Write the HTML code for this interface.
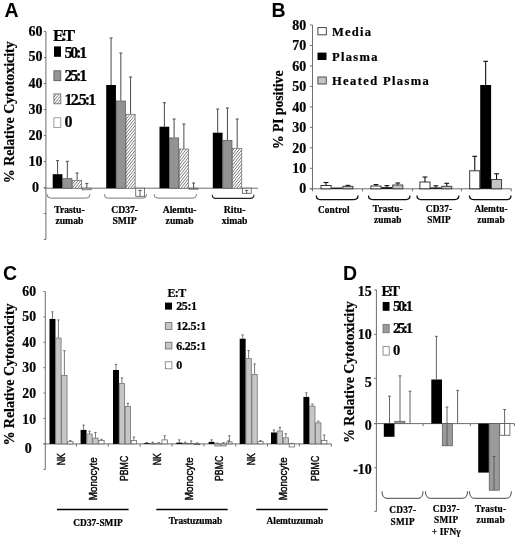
<!DOCTYPE html>
<html>
<head>
<meta charset="utf-8">
<title>Figure</title>
<style>
html,body{margin:0;padding:0;background:#fff;}
body{width:520px;height:539px;overflow:hidden;font-family:"Liberation Serif",serif;}
svg{display:block;}
</style>
</head>
<body>
<svg width="520" height="539" viewBox="0 0 520 539">
<defs>
<pattern id="hatch" width="2.2" height="2.2" patternUnits="userSpaceOnUse" patternTransform="rotate(-52)">
<rect x="0" y="0" width="2.2" height="2.2" fill="#fff"/>
<line x1="0" y1="1.1" x2="2.2" y2="1.1" stroke="#606060" stroke-width="0.65"/>
</pattern>
<filter id="soft" x="0" y="0" width="520" height="539" filterUnits="userSpaceOnUse"><feGaussianBlur stdDeviation="0.45"/></filter>
</defs>
<rect x="0" y="0" width="520" height="539" fill="#fff"/>
<g filter="url(#soft)">
<text x="4.40" y="16.80" font-family="Liberation Sans, sans-serif" font-size="19.5" font-weight="bold" text-anchor="start" fill="#000">A</text>
<line x1="45.90" y1="31.50" x2="45.90" y2="239.50" stroke="#6e6e6e" stroke-width="1"/>
<line x1="43.90" y1="31.50" x2="45.90" y2="31.50" stroke="#6e6e6e" stroke-width="1"/>
<line x1="43.90" y1="57.50" x2="45.90" y2="57.50" stroke="#6e6e6e" stroke-width="1"/>
<line x1="43.90" y1="83.50" x2="45.90" y2="83.50" stroke="#6e6e6e" stroke-width="1"/>
<line x1="43.90" y1="109.50" x2="45.90" y2="109.50" stroke="#6e6e6e" stroke-width="1"/>
<line x1="43.90" y1="135.50" x2="45.90" y2="135.50" stroke="#6e6e6e" stroke-width="1"/>
<line x1="43.90" y1="161.50" x2="45.90" y2="161.50" stroke="#6e6e6e" stroke-width="1"/>
<line x1="43.90" y1="187.50" x2="45.90" y2="187.50" stroke="#6e6e6e" stroke-width="1"/>
<line x1="43.90" y1="213.50" x2="45.90" y2="213.50" stroke="#6e6e6e" stroke-width="1"/>
<line x1="43.90" y1="239.50" x2="45.90" y2="239.50" stroke="#6e6e6e" stroke-width="1"/>
<line x1="43.90" y1="188.20" x2="258.00" y2="188.20" stroke="#6e6e6e" stroke-width="1"/>
<text x="42.40" y="35.50" font-family="Liberation Serif, serif" font-size="14" font-weight="bold" text-anchor="end" fill="#000" stroke="#000" stroke-width="0.22">60</text>
<text x="42.40" y="60.70" font-family="Liberation Serif, serif" font-size="14" font-weight="bold" text-anchor="end" fill="#000" stroke="#000" stroke-width="0.22">50</text>
<text x="42.40" y="87.50" font-family="Liberation Serif, serif" font-size="14" font-weight="bold" text-anchor="end" fill="#000" stroke="#000" stroke-width="0.22">40</text>
<text x="42.40" y="113.50" font-family="Liberation Serif, serif" font-size="14" font-weight="bold" text-anchor="end" fill="#000" stroke="#000" stroke-width="0.22">30</text>
<text x="42.40" y="139.50" font-family="Liberation Serif, serif" font-size="14" font-weight="bold" text-anchor="end" fill="#000" stroke="#000" stroke-width="0.22">20</text>
<text x="42.40" y="165.50" font-family="Liberation Serif, serif" font-size="14" font-weight="bold" text-anchor="end" fill="#000" stroke="#000" stroke-width="0.22">10</text>
<text x="35.50" y="191.50" font-family="Liberation Serif, serif" font-size="14" font-weight="bold" text-anchor="middle" fill="#000" stroke="#000" stroke-width="0.22">0</text>
<text x="14.00" y="112.30" font-family="Liberation Serif, serif" font-size="13.9" font-weight="bold" text-anchor="middle" fill="#000" textLength="141.80" lengthAdjust="spacing" stroke="#000" stroke-width="0.22" transform="rotate(-90 14.00 112.30)">% Relative Cytotoxicity</text>
<line x1="57.58" y1="160.60" x2="57.58" y2="174.20" stroke="#4a4a4a" stroke-width="1"/>
<line x1="56.08" y1="160.60" x2="59.08" y2="160.60" stroke="#4a4a4a" stroke-width="1"/>
<rect x="52.70" y="174.20" width="9.75" height="14.00" fill="#000"/>
<line x1="67.33" y1="161.30" x2="67.33" y2="178.30" stroke="#4a4a4a" stroke-width="1"/>
<line x1="65.83" y1="161.30" x2="68.83" y2="161.30" stroke="#4a4a4a" stroke-width="1"/>
<rect x="62.75" y="178.60" width="9.15" height="9.60" fill="#939393" stroke="#555" stroke-width="0.7"/>
<line x1="77.08" y1="173.00" x2="77.08" y2="180.20" stroke="#4a4a4a" stroke-width="1"/>
<line x1="75.58" y1="173.00" x2="78.58" y2="173.00" stroke="#4a4a4a" stroke-width="1"/>
<rect x="72.50" y="180.50" width="9.15" height="7.70" fill="#fff"/>
<rect x="72.50" y="180.50" width="9.15" height="7.70" fill="url(#hatch)" stroke="#666" stroke-width="0.7"/>
<line x1="86.83" y1="183.40" x2="86.83" y2="188.20" stroke="#4a4a4a" stroke-width="1"/>
<line x1="85.33" y1="183.40" x2="88.33" y2="183.40" stroke="#4a4a4a" stroke-width="1"/>
<rect x="82.25" y="188.20" width="8.85" height="1.60" fill="#fff" stroke="#555" stroke-width="0.8"/>
<line x1="111.08" y1="38.00" x2="111.08" y2="85.00" stroke="#4a4a4a" stroke-width="1"/>
<line x1="109.58" y1="38.00" x2="112.58" y2="38.00" stroke="#4a4a4a" stroke-width="1"/>
<rect x="106.20" y="85.00" width="9.75" height="103.20" fill="#000"/>
<line x1="120.83" y1="53.00" x2="120.83" y2="100.70" stroke="#4a4a4a" stroke-width="1"/>
<line x1="119.33" y1="53.00" x2="122.33" y2="53.00" stroke="#4a4a4a" stroke-width="1"/>
<rect x="116.25" y="101.00" width="9.15" height="87.20" fill="#939393" stroke="#555" stroke-width="0.7"/>
<line x1="130.57" y1="77.00" x2="130.57" y2="114.00" stroke="#4a4a4a" stroke-width="1"/>
<line x1="129.07" y1="77.00" x2="132.07" y2="77.00" stroke="#4a4a4a" stroke-width="1"/>
<rect x="126.00" y="114.30" width="9.15" height="73.90" fill="#fff"/>
<rect x="126.00" y="114.30" width="9.15" height="73.90" fill="url(#hatch)" stroke="#666" stroke-width="0.7"/>
<rect x="135.75" y="188.20" width="8.85" height="8.10" fill="#fff" stroke="#555" stroke-width="0.8"/>
<line x1="140.02" y1="190.40" x2="140.02" y2="196.30" stroke="#4a4a4a" stroke-width="0.9"/>
<line x1="138.32" y1="190.40" x2="141.72" y2="190.40" stroke="#4a4a4a" stroke-width="0.9"/>
<line x1="164.38" y1="102.70" x2="164.38" y2="126.70" stroke="#4a4a4a" stroke-width="1"/>
<line x1="162.88" y1="102.70" x2="165.88" y2="102.70" stroke="#4a4a4a" stroke-width="1"/>
<rect x="159.50" y="126.70" width="9.75" height="61.50" fill="#000"/>
<line x1="174.12" y1="119.00" x2="174.12" y2="137.60" stroke="#4a4a4a" stroke-width="1"/>
<line x1="172.62" y1="119.00" x2="175.62" y2="119.00" stroke="#4a4a4a" stroke-width="1"/>
<rect x="169.55" y="137.90" width="9.15" height="50.30" fill="#939393" stroke="#555" stroke-width="0.7"/>
<line x1="183.88" y1="124.00" x2="183.88" y2="148.70" stroke="#4a4a4a" stroke-width="1"/>
<line x1="182.38" y1="124.00" x2="185.38" y2="124.00" stroke="#4a4a4a" stroke-width="1"/>
<rect x="179.30" y="149.00" width="9.15" height="39.20" fill="#fff"/>
<rect x="179.30" y="149.00" width="9.15" height="39.20" fill="url(#hatch)" stroke="#666" stroke-width="0.7"/>
<line x1="193.62" y1="183.00" x2="193.62" y2="188.20" stroke="#4a4a4a" stroke-width="1"/>
<line x1="192.12" y1="183.00" x2="195.12" y2="183.00" stroke="#4a4a4a" stroke-width="1"/>
<rect x="189.05" y="188.20" width="8.85" height="1.00" fill="#fff" stroke="#555" stroke-width="0.8"/>
<line x1="217.68" y1="109.00" x2="217.68" y2="132.70" stroke="#4a4a4a" stroke-width="1"/>
<line x1="216.18" y1="109.00" x2="219.18" y2="109.00" stroke="#4a4a4a" stroke-width="1"/>
<rect x="212.80" y="132.70" width="9.75" height="55.50" fill="#000"/>
<line x1="227.43" y1="108.00" x2="227.43" y2="140.00" stroke="#4a4a4a" stroke-width="1"/>
<line x1="225.93" y1="108.00" x2="228.93" y2="108.00" stroke="#4a4a4a" stroke-width="1"/>
<rect x="222.85" y="140.30" width="9.15" height="47.90" fill="#939393" stroke="#555" stroke-width="0.7"/>
<line x1="237.18" y1="119.00" x2="237.18" y2="148.00" stroke="#4a4a4a" stroke-width="1"/>
<line x1="235.68" y1="119.00" x2="238.68" y2="119.00" stroke="#4a4a4a" stroke-width="1"/>
<rect x="232.60" y="148.30" width="9.15" height="39.90" fill="#fff"/>
<rect x="232.60" y="148.30" width="9.15" height="39.90" fill="url(#hatch)" stroke="#666" stroke-width="0.7"/>
<rect x="242.35" y="188.20" width="8.85" height="5.10" fill="#fff" stroke="#555" stroke-width="0.8"/>
<line x1="246.62" y1="190.40" x2="246.62" y2="193.30" stroke="#4a4a4a" stroke-width="0.9"/>
<line x1="244.93" y1="190.40" x2="248.33" y2="190.40" stroke="#4a4a4a" stroke-width="0.9"/>
<path d="M47.00,194.20 Q47.00,198.10 50.50,198.10 L86.50,198.10 Q90.00,198.10 90.00,194.20" fill="none" stroke="#6a6a6a" stroke-width="0.9"/>
<path d="M104.30,194.20 Q104.30,198.10 107.80,198.10 L143.10,198.10 Q146.60,198.10 146.60,194.20" fill="none" stroke="#6a6a6a" stroke-width="0.9"/>
<path d="M154.00,194.20 Q154.00,198.10 157.50,198.10 L193.10,198.10 Q196.60,198.10 196.60,194.20" fill="none" stroke="#6a6a6a" stroke-width="0.9"/>
<path d="M212.20,194.80 Q212.20,198.40 215.70,198.40 L250.50,198.40 Q254.00,198.40 254.00,194.80" fill="none" stroke="#222" stroke-width="1.1"/>
<text x="69.40" y="213.00" font-family="Liberation Serif, serif" font-size="9.7" font-weight="bold" text-anchor="middle" fill="#000" stroke="#000" stroke-width="0.22">Trastu-</text>
<text x="69.40" y="224.20" font-family="Liberation Serif, serif" font-size="9.7" font-weight="bold" text-anchor="middle" fill="#000" stroke="#000" stroke-width="0.22">zumab</text>
<text x="124.60" y="213.00" font-family="Liberation Serif, serif" font-size="9.7" font-weight="bold" text-anchor="middle" fill="#000" stroke="#000" stroke-width="0.22">CD37-</text>
<text x="124.60" y="224.20" font-family="Liberation Serif, serif" font-size="9.7" font-weight="bold" text-anchor="middle" fill="#000" stroke="#000" stroke-width="0.22">SMIP</text>
<text x="179.60" y="213.00" font-family="Liberation Serif, serif" font-size="9.7" font-weight="bold" text-anchor="middle" fill="#000" stroke="#000" stroke-width="0.22">Alemtu-</text>
<text x="179.60" y="224.20" font-family="Liberation Serif, serif" font-size="9.7" font-weight="bold" text-anchor="middle" fill="#000" stroke="#000" stroke-width="0.22">zumab</text>
<text x="234.60" y="213.00" font-family="Liberation Serif, serif" font-size="9.7" font-weight="bold" text-anchor="middle" fill="#000" stroke="#000" stroke-width="0.22">Ritu-</text>
<text x="234.60" y="224.20" font-family="Liberation Serif, serif" font-size="9.7" font-weight="bold" text-anchor="middle" fill="#000" stroke="#000" stroke-width="0.22">ximab</text>
<text x="53.00" y="40.60" font-family="Liberation Serif, serif" font-size="17" font-weight="bold" text-anchor="start" fill="#000" textLength="22.00" lengthAdjust="spacing" stroke="#000" stroke-width="0.22">E:T</text>
<rect x="54.00" y="46.40" width="7.00" height="10.40" fill="#000"/>
<text x="64.60" y="57.70" font-family="Liberation Serif, serif" font-size="16" font-weight="bold" text-anchor="start" fill="#000" textLength="22.60" lengthAdjust="spacing" stroke="#000" stroke-width="0.22">50:1</text>
<rect x="53.90" y="70.80" width="6.90" height="9.90" fill="#939393" stroke="#555" stroke-width="0.8"/>
<text x="64.60" y="81.00" font-family="Liberation Serif, serif" font-size="16" font-weight="bold" text-anchor="start" fill="#000" textLength="22.60" lengthAdjust="spacing" stroke="#000" stroke-width="0.22">25:1</text>
<rect x="53.90" y="93.90" width="6.90" height="9.90" fill="#fff"/>
<rect x="53.90" y="93.90" width="6.90" height="9.90" fill="url(#hatch)" stroke="#666" stroke-width="0.8"/>
<text x="64.60" y="104.60" font-family="Liberation Serif, serif" font-size="16" font-weight="bold" text-anchor="start" fill="#000" textLength="31.60" lengthAdjust="spacing" stroke="#000" stroke-width="0.22">12.5:1</text>
<rect x="53.90" y="117.80" width="6.90" height="9.60" fill="#fff" stroke="#888" stroke-width="0.8"/>
<text x="64.60" y="127.20" font-family="Liberation Serif, serif" font-size="16" font-weight="bold" text-anchor="start" fill="#000" textLength="6.80" lengthAdjust="spacing" stroke="#000" stroke-width="0.22">0</text>
<text x="271.40" y="17.20" font-family="Liberation Sans, sans-serif" font-size="19.5" font-weight="bold" text-anchor="start" fill="#000">B</text>
<line x1="312.50" y1="25.00" x2="312.50" y2="191.30" stroke="#6e6e6e" stroke-width="1"/>
<line x1="309.90" y1="25.00" x2="312.50" y2="25.00" stroke="#6e6e6e" stroke-width="1"/>
<line x1="309.90" y1="45.47" x2="312.50" y2="45.47" stroke="#6e6e6e" stroke-width="1"/>
<line x1="309.90" y1="65.94" x2="312.50" y2="65.94" stroke="#6e6e6e" stroke-width="1"/>
<line x1="309.90" y1="86.41" x2="312.50" y2="86.41" stroke="#6e6e6e" stroke-width="1"/>
<line x1="309.90" y1="106.88" x2="312.50" y2="106.88" stroke="#6e6e6e" stroke-width="1"/>
<line x1="309.90" y1="127.35" x2="312.50" y2="127.35" stroke="#6e6e6e" stroke-width="1"/>
<line x1="309.90" y1="147.82" x2="312.50" y2="147.82" stroke="#6e6e6e" stroke-width="1"/>
<line x1="309.90" y1="168.29" x2="312.50" y2="168.29" stroke="#6e6e6e" stroke-width="1"/>
<line x1="309.90" y1="188.76" x2="312.50" y2="188.76" stroke="#6e6e6e" stroke-width="1"/>
<line x1="309.90" y1="188.80" x2="511.50" y2="188.80" stroke="#6e6e6e" stroke-width="1"/>
<line x1="362.50" y1="188.80" x2="362.50" y2="191.40" stroke="#6e6e6e" stroke-width="1"/>
<line x1="412.50" y1="188.80" x2="412.50" y2="191.40" stroke="#6e6e6e" stroke-width="1"/>
<line x1="461.40" y1="188.80" x2="461.40" y2="191.40" stroke="#6e6e6e" stroke-width="1"/>
<line x1="511.20" y1="188.80" x2="511.20" y2="191.40" stroke="#6e6e6e" stroke-width="1"/>
<text x="306.20" y="29.70" font-family="Liberation Serif, serif" font-size="14" font-weight="bold" text-anchor="end" fill="#000" stroke="#000" stroke-width="0.22">80</text>
<text x="306.20" y="50.17" font-family="Liberation Serif, serif" font-size="14" font-weight="bold" text-anchor="end" fill="#000" stroke="#000" stroke-width="0.22">70</text>
<text x="306.20" y="70.64" font-family="Liberation Serif, serif" font-size="14" font-weight="bold" text-anchor="end" fill="#000" stroke="#000" stroke-width="0.22">60</text>
<text x="306.20" y="91.11" font-family="Liberation Serif, serif" font-size="14" font-weight="bold" text-anchor="end" fill="#000" stroke="#000" stroke-width="0.22">50</text>
<text x="306.20" y="111.58" font-family="Liberation Serif, serif" font-size="14" font-weight="bold" text-anchor="end" fill="#000" stroke="#000" stroke-width="0.22">40</text>
<text x="306.20" y="132.05" font-family="Liberation Serif, serif" font-size="14" font-weight="bold" text-anchor="end" fill="#000" stroke="#000" stroke-width="0.22">30</text>
<text x="306.20" y="152.52" font-family="Liberation Serif, serif" font-size="14" font-weight="bold" text-anchor="end" fill="#000" stroke="#000" stroke-width="0.22">20</text>
<text x="306.20" y="172.99" font-family="Liberation Serif, serif" font-size="14" font-weight="bold" text-anchor="end" fill="#000" stroke="#000" stroke-width="0.22">10</text>
<text x="306.20" y="193.46" font-family="Liberation Serif, serif" font-size="14" font-weight="bold" text-anchor="end" fill="#000" stroke="#000" stroke-width="0.22">0</text>
<text x="283.00" y="109.80" font-family="Liberation Serif, serif" font-size="13.7" font-weight="bold" text-anchor="middle" fill="#000" textLength="78.60" lengthAdjust="spacing" stroke="#000" stroke-width="0.22" transform="rotate(-90 283.00 109.80)">% PI positive</text>
<line x1="326.05" y1="182.50" x2="326.05" y2="185.50" stroke="#111" stroke-width="1.1"/>
<line x1="323.65" y1="182.50" x2="328.45" y2="182.50" stroke="#111" stroke-width="1.1"/>
<rect x="321.00" y="185.50" width="10.10" height="3.30" fill="#fff" stroke="#222" stroke-width="0.9"/>
<rect x="331.50" y="187.60" width="10.90" height="1.20" fill="#000"/>
<line x1="347.85" y1="185.40" x2="347.85" y2="186.30" stroke="#111" stroke-width="1.1"/>
<line x1="345.45" y1="185.40" x2="350.25" y2="185.40" stroke="#111" stroke-width="1.1"/>
<rect x="342.80" y="186.30" width="10.10" height="2.50" fill="#c4c4c4" stroke="#333" stroke-width="0.9"/>
<line x1="375.95" y1="184.60" x2="375.95" y2="186.00" stroke="#111" stroke-width="1.1"/>
<line x1="373.55" y1="184.60" x2="378.35" y2="184.60" stroke="#111" stroke-width="1.1"/>
<rect x="370.90" y="186.00" width="10.10" height="2.80" fill="#fff" stroke="#222" stroke-width="0.9"/>
<line x1="386.85" y1="185.60" x2="386.85" y2="187.20" stroke="#111" stroke-width="1.1"/>
<line x1="384.45" y1="185.60" x2="389.25" y2="185.60" stroke="#111" stroke-width="1.1"/>
<rect x="381.40" y="187.20" width="10.90" height="1.60" fill="#000"/>
<line x1="397.75" y1="183.00" x2="397.75" y2="185.00" stroke="#111" stroke-width="1.1"/>
<line x1="395.35" y1="183.00" x2="400.15" y2="183.00" stroke="#111" stroke-width="1.1"/>
<rect x="392.70" y="185.00" width="10.10" height="3.80" fill="#c4c4c4" stroke="#333" stroke-width="0.9"/>
<line x1="424.95" y1="177.00" x2="424.95" y2="182.00" stroke="#111" stroke-width="1.1"/>
<line x1="422.55" y1="177.00" x2="427.35" y2="177.00" stroke="#111" stroke-width="1.1"/>
<rect x="419.90" y="182.00" width="10.10" height="6.80" fill="#fff" stroke="#222" stroke-width="0.9"/>
<line x1="435.85" y1="185.80" x2="435.85" y2="187.50" stroke="#111" stroke-width="1.1"/>
<line x1="433.45" y1="185.80" x2="438.25" y2="185.80" stroke="#111" stroke-width="1.1"/>
<rect x="430.40" y="187.50" width="10.90" height="1.30" fill="#000"/>
<line x1="446.75" y1="183.30" x2="446.75" y2="186.30" stroke="#111" stroke-width="1.1"/>
<line x1="444.35" y1="183.30" x2="449.15" y2="183.30" stroke="#111" stroke-width="1.1"/>
<rect x="441.70" y="186.30" width="10.10" height="2.50" fill="#c4c4c4" stroke="#333" stroke-width="0.9"/>
<line x1="474.75" y1="156.30" x2="474.75" y2="170.80" stroke="#111" stroke-width="1.1"/>
<line x1="472.35" y1="156.30" x2="477.15" y2="156.30" stroke="#111" stroke-width="1.1"/>
<rect x="469.70" y="170.80" width="10.10" height="18.00" fill="#fff" stroke="#222" stroke-width="0.9"/>
<line x1="485.65" y1="61.30" x2="485.65" y2="85.00" stroke="#111" stroke-width="1.1"/>
<line x1="483.25" y1="61.30" x2="488.05" y2="61.30" stroke="#111" stroke-width="1.1"/>
<rect x="480.20" y="85.00" width="10.90" height="103.80" fill="#000"/>
<line x1="496.55" y1="173.80" x2="496.55" y2="179.50" stroke="#111" stroke-width="1.1"/>
<line x1="494.15" y1="173.80" x2="498.95" y2="173.80" stroke="#111" stroke-width="1.1"/>
<rect x="491.50" y="179.50" width="10.10" height="9.30" fill="#c4c4c4" stroke="#333" stroke-width="0.9"/>
<path d="M316.30,195.60 Q316.30,199.60 320.30,199.60 L354.00,199.60 Q358.00,199.60 358.00,195.60" fill="none" stroke="#111" stroke-width="1.3"/>
<path d="M368.50,195.60 Q368.50,199.60 372.50,199.60 L406.00,199.60 Q410.00,199.60 410.00,195.60" fill="none" stroke="#111" stroke-width="1.3"/>
<path d="M417.00,195.60 Q417.00,199.60 421.00,199.60 L454.80,199.60 Q458.80,199.60 458.80,195.60" fill="none" stroke="#111" stroke-width="1.3"/>
<path d="M469.50,195.60 Q469.50,199.60 473.50,199.60 L507.00,199.60 Q511.00,199.60 511.00,195.60" fill="none" stroke="#111" stroke-width="1.3"/>
<text x="333.90" y="212.60" font-family="Liberation Serif, serif" font-size="9.3" font-weight="bold" text-anchor="middle" fill="#000" letter-spacing="0.15" stroke="#000" stroke-width="0.22">Control</text>
<text x="387.80" y="212.00" font-family="Liberation Serif, serif" font-size="9.3" font-weight="bold" text-anchor="middle" fill="#000" letter-spacing="0.1" stroke="#000" stroke-width="0.22">Trastu-</text>
<text x="387.80" y="222.60" font-family="Liberation Serif, serif" font-size="9.3" font-weight="bold" text-anchor="middle" fill="#000" letter-spacing="0.1" stroke="#000" stroke-width="0.22">zumab</text>
<text x="439.00" y="212.00" font-family="Liberation Serif, serif" font-size="9.3" font-weight="bold" text-anchor="middle" fill="#000" letter-spacing="0.1" stroke="#000" stroke-width="0.22">CD37-</text>
<text x="439.00" y="222.60" font-family="Liberation Serif, serif" font-size="9.3" font-weight="bold" text-anchor="middle" fill="#000" letter-spacing="0.1" stroke="#000" stroke-width="0.22">SMIP</text>
<text x="491.00" y="212.00" font-family="Liberation Serif, serif" font-size="9.3" font-weight="bold" text-anchor="middle" fill="#000" letter-spacing="0.1" stroke="#000" stroke-width="0.22">Alemtu-</text>
<text x="491.00" y="222.60" font-family="Liberation Serif, serif" font-size="9.3" font-weight="bold" text-anchor="middle" fill="#000" letter-spacing="0.1" stroke="#000" stroke-width="0.22">zumab</text>
<rect x="317.90" y="27.60" width="8.40" height="7.20" fill="#fff" stroke="#333" stroke-width="0.9"/>
<text x="332.00" y="35.60" font-family="Liberation Serif, serif" font-size="12.5" font-weight="bold" text-anchor="start" fill="#000" textLength="39.00" lengthAdjust="spacing" stroke="#000" stroke-width="0.22">Media</text>
<rect x="317.50" y="52.60" width="9.00" height="7.40" fill="#000"/>
<text x="332.00" y="60.60" font-family="Liberation Serif, serif" font-size="12.5" font-weight="bold" text-anchor="start" fill="#000" textLength="45.50" lengthAdjust="spacing" stroke="#000" stroke-width="0.22">Plasma</text>
<rect x="317.90" y="77.00" width="8.40" height="7.00" fill="#c4c4c4" stroke="#444" stroke-width="0.9"/>
<text x="332.00" y="84.60" font-family="Liberation Serif, serif" font-size="12.5" font-weight="bold" text-anchor="start" fill="#000" textLength="96.80" lengthAdjust="spacing" stroke="#000" stroke-width="0.22">Heated Plasma</text>
<text x="3.00" y="279.80" font-family="Liberation Sans, sans-serif" font-size="19.5" font-weight="bold" text-anchor="start" fill="#000">C</text>
<line x1="45.30" y1="291.50" x2="45.30" y2="469.50" stroke="#6e6e6e" stroke-width="1"/>
<line x1="43.50" y1="291.50" x2="45.30" y2="291.50" stroke="#6e6e6e" stroke-width="1"/>
<line x1="43.50" y1="316.90" x2="45.30" y2="316.90" stroke="#6e6e6e" stroke-width="1"/>
<line x1="43.50" y1="342.30" x2="45.30" y2="342.30" stroke="#6e6e6e" stroke-width="1"/>
<line x1="43.50" y1="367.70" x2="45.30" y2="367.70" stroke="#6e6e6e" stroke-width="1"/>
<line x1="43.50" y1="393.10" x2="45.30" y2="393.10" stroke="#6e6e6e" stroke-width="1"/>
<line x1="43.50" y1="418.50" x2="45.30" y2="418.50" stroke="#6e6e6e" stroke-width="1"/>
<line x1="43.50" y1="443.90" x2="45.30" y2="443.90" stroke="#6e6e6e" stroke-width="1"/>
<line x1="43.50" y1="469.30" x2="45.30" y2="469.30" stroke="#6e6e6e" stroke-width="1"/>
<line x1="43.50" y1="443.90" x2="331.30" y2="443.90" stroke="#6e6e6e" stroke-width="1"/>
<line x1="76.45" y1="443.90" x2="76.45" y2="446.50" stroke="#6e6e6e" stroke-width="1"/>
<line x1="108.30" y1="443.90" x2="108.30" y2="446.50" stroke="#6e6e6e" stroke-width="1"/>
<line x1="140.15" y1="443.90" x2="140.15" y2="446.50" stroke="#6e6e6e" stroke-width="1"/>
<line x1="172.00" y1="443.90" x2="172.00" y2="446.50" stroke="#6e6e6e" stroke-width="1"/>
<line x1="203.85" y1="443.90" x2="203.85" y2="446.50" stroke="#6e6e6e" stroke-width="1"/>
<line x1="235.70" y1="443.90" x2="235.70" y2="446.50" stroke="#6e6e6e" stroke-width="1"/>
<line x1="267.55" y1="443.90" x2="267.55" y2="446.50" stroke="#6e6e6e" stroke-width="1"/>
<line x1="299.40" y1="443.90" x2="299.40" y2="446.50" stroke="#6e6e6e" stroke-width="1"/>
<line x1="331.25" y1="443.90" x2="331.25" y2="446.50" stroke="#6e6e6e" stroke-width="1"/>
<text x="36.00" y="296.10" font-family="Liberation Serif, serif" font-size="13.7" font-weight="bold" text-anchor="end" fill="#000" stroke="#000" stroke-width="0.22">60</text>
<text x="36.00" y="321.30" font-family="Liberation Serif, serif" font-size="13.7" font-weight="bold" text-anchor="end" fill="#000" stroke="#000" stroke-width="0.22">50</text>
<text x="36.00" y="346.60" font-family="Liberation Serif, serif" font-size="13.7" font-weight="bold" text-anchor="end" fill="#000" stroke="#000" stroke-width="0.22">40</text>
<text x="36.00" y="372.20" font-family="Liberation Serif, serif" font-size="13.7" font-weight="bold" text-anchor="end" fill="#000" stroke="#000" stroke-width="0.22">30</text>
<text x="36.00" y="397.60" font-family="Liberation Serif, serif" font-size="13.7" font-weight="bold" text-anchor="end" fill="#000" stroke="#000" stroke-width="0.22">20</text>
<text x="36.00" y="424.20" font-family="Liberation Serif, serif" font-size="13.7" font-weight="bold" text-anchor="end" fill="#000" stroke="#000" stroke-width="0.22">10</text>
<text x="28.30" y="452.60" font-family="Liberation Serif, serif" font-size="14" font-weight="bold" text-anchor="middle" fill="#000" stroke="#000" stroke-width="0.22">0</text>
<text x="14.10" y="374.50" font-family="Liberation Serif, serif" font-size="14.0" font-weight="bold" text-anchor="middle" fill="#000" textLength="142.20" lengthAdjust="spacing" stroke="#000" stroke-width="0.22" transform="rotate(-90 14.10 374.50)">% Relative Cytotoxicity</text>
<line x1="52.48" y1="311.82" x2="52.48" y2="318.93" stroke="#555" stroke-width="0.8"/>
<line x1="51.27" y1="311.82" x2="53.68" y2="311.82" stroke="#555" stroke-width="0.8"/>
<rect x="49.50" y="318.93" width="5.95" height="124.97" fill="#000"/>
<line x1="58.43" y1="319.95" x2="58.43" y2="337.73" stroke="#555" stroke-width="0.8"/>
<line x1="57.23" y1="319.95" x2="59.63" y2="319.95" stroke="#555" stroke-width="0.8"/>
<rect x="55.75" y="338.03" width="5.35" height="105.87" fill="#c6c6c6" stroke="#666" stroke-width="0.7"/>
<line x1="64.38" y1="350.68" x2="64.38" y2="375.07" stroke="#555" stroke-width="0.8"/>
<line x1="63.17" y1="350.68" x2="65.58" y2="350.68" stroke="#555" stroke-width="0.8"/>
<rect x="61.70" y="375.37" width="5.35" height="68.53" fill="#c6c6c6" stroke="#666" stroke-width="0.7"/>
<line x1="70.32" y1="440.60" x2="70.32" y2="441.36" stroke="#555" stroke-width="0.8"/>
<line x1="69.12" y1="440.60" x2="71.52" y2="440.60" stroke="#555" stroke-width="0.8"/>
<rect x="67.65" y="441.66" width="5.35" height="2.24" fill="#fff" stroke="#555" stroke-width="0.7"/>
<line x1="83.57" y1="425.10" x2="83.57" y2="429.93" stroke="#555" stroke-width="0.8"/>
<line x1="82.37" y1="425.10" x2="84.77" y2="425.10" stroke="#555" stroke-width="0.8"/>
<rect x="80.60" y="429.93" width="5.95" height="13.97" fill="#000"/>
<line x1="89.52" y1="431.20" x2="89.52" y2="433.74" stroke="#555" stroke-width="0.8"/>
<line x1="88.32" y1="431.20" x2="90.72" y2="431.20" stroke="#555" stroke-width="0.8"/>
<rect x="86.85" y="434.04" width="5.35" height="9.86" fill="#c6c6c6" stroke="#666" stroke-width="0.7"/>
<line x1="95.47" y1="432.47" x2="95.47" y2="437.80" stroke="#555" stroke-width="0.8"/>
<line x1="94.27" y1="432.47" x2="96.67" y2="432.47" stroke="#555" stroke-width="0.8"/>
<rect x="92.80" y="438.10" width="5.35" height="5.80" fill="#c6c6c6" stroke="#666" stroke-width="0.7"/>
<line x1="101.42" y1="439.33" x2="101.42" y2="440.09" stroke="#555" stroke-width="0.8"/>
<line x1="100.22" y1="439.33" x2="102.62" y2="439.33" stroke="#555" stroke-width="0.8"/>
<rect x="98.75" y="440.39" width="5.35" height="3.51" fill="#fff" stroke="#555" stroke-width="0.7"/>
<line x1="115.97" y1="364.40" x2="115.97" y2="369.99" stroke="#555" stroke-width="0.8"/>
<line x1="114.77" y1="364.40" x2="117.17" y2="364.40" stroke="#555" stroke-width="0.8"/>
<rect x="113.00" y="369.99" width="5.95" height="73.91" fill="#000"/>
<line x1="121.92" y1="377.86" x2="121.92" y2="383.19" stroke="#555" stroke-width="0.8"/>
<line x1="120.72" y1="377.86" x2="123.12" y2="377.86" stroke="#555" stroke-width="0.8"/>
<rect x="119.25" y="383.49" width="5.35" height="60.41" fill="#c6c6c6" stroke="#666" stroke-width="0.7"/>
<line x1="127.88" y1="403.26" x2="127.88" y2="406.31" stroke="#555" stroke-width="0.8"/>
<line x1="126.67" y1="403.26" x2="129.07" y2="403.26" stroke="#555" stroke-width="0.8"/>
<rect x="125.20" y="406.61" width="5.35" height="37.29" fill="#c6c6c6" stroke="#666" stroke-width="0.7"/>
<line x1="133.82" y1="437.04" x2="133.82" y2="440.09" stroke="#555" stroke-width="0.8"/>
<line x1="132.62" y1="437.04" x2="135.02" y2="437.04" stroke="#555" stroke-width="0.8"/>
<rect x="131.15" y="440.39" width="5.35" height="3.51" fill="#fff" stroke="#555" stroke-width="0.7"/>
<line x1="146.78" y1="442.38" x2="146.78" y2="443.14" stroke="#555" stroke-width="0.8"/>
<line x1="145.58" y1="442.38" x2="147.97" y2="442.38" stroke="#555" stroke-width="0.8"/>
<rect x="143.80" y="443.14" width="5.95" height="0.76" fill="#000"/>
<line x1="152.72" y1="442.12" x2="152.72" y2="443.14" stroke="#555" stroke-width="0.8"/>
<line x1="151.53" y1="442.12" x2="153.92" y2="442.12" stroke="#555" stroke-width="0.8"/>
<rect x="150.05" y="443.44" width="5.35" height="0.46" fill="#c6c6c6" stroke="#666" stroke-width="0.7"/>
<line x1="158.68" y1="442.63" x2="158.68" y2="443.39" stroke="#555" stroke-width="0.8"/>
<line x1="157.48" y1="442.63" x2="159.88" y2="442.63" stroke="#555" stroke-width="0.8"/>
<rect x="156.00" y="443.69" width="5.35" height="0.21" fill="#c6c6c6" stroke="#666" stroke-width="0.7"/>
<line x1="164.62" y1="435.77" x2="164.62" y2="439.58" stroke="#555" stroke-width="0.8"/>
<line x1="163.43" y1="435.77" x2="165.82" y2="435.77" stroke="#555" stroke-width="0.8"/>
<rect x="161.95" y="439.88" width="5.35" height="4.02" fill="#fff" stroke="#555" stroke-width="0.7"/>
<line x1="179.28" y1="439.84" x2="179.28" y2="442.63" stroke="#555" stroke-width="0.8"/>
<line x1="178.08" y1="439.84" x2="180.47" y2="439.84" stroke="#555" stroke-width="0.8"/>
<rect x="176.30" y="442.63" width="5.95" height="1.27" fill="#000"/>
<line x1="185.22" y1="442.12" x2="185.22" y2="442.88" stroke="#555" stroke-width="0.8"/>
<line x1="184.03" y1="442.12" x2="186.42" y2="442.12" stroke="#555" stroke-width="0.8"/>
<rect x="182.55" y="443.18" width="5.35" height="0.72" fill="#c6c6c6" stroke="#666" stroke-width="0.7"/>
<line x1="191.18" y1="440.85" x2="191.18" y2="443.14" stroke="#555" stroke-width="0.8"/>
<line x1="189.98" y1="440.85" x2="192.38" y2="440.85" stroke="#555" stroke-width="0.8"/>
<rect x="188.50" y="443.44" width="5.35" height="0.46" fill="#c6c6c6" stroke="#666" stroke-width="0.7"/>
<line x1="197.12" y1="442.88" x2="197.12" y2="443.90" stroke="#555" stroke-width="0.8"/>
<line x1="195.93" y1="442.88" x2="198.32" y2="442.88" stroke="#555" stroke-width="0.8"/>
<rect x="194.45" y="443.90" width="5.35" height="0.81" fill="#fff" stroke="#555" stroke-width="0.7"/>
<line x1="211.57" y1="439.84" x2="211.57" y2="441.87" stroke="#555" stroke-width="0.8"/>
<line x1="210.38" y1="439.84" x2="212.77" y2="439.84" stroke="#555" stroke-width="0.8"/>
<rect x="208.60" y="441.87" width="5.95" height="2.03" fill="#000"/>
<line x1="217.52" y1="443.14" x2="217.52" y2="443.90" stroke="#555" stroke-width="0.8"/>
<line x1="216.32" y1="443.14" x2="218.72" y2="443.14" stroke="#555" stroke-width="0.8"/>
<rect x="214.85" y="443.90" width="5.35" height="2.08" fill="#c6c6c6" stroke="#666" stroke-width="0.7"/>
<line x1="223.47" y1="442.63" x2="223.47" y2="443.90" stroke="#555" stroke-width="0.8"/>
<line x1="222.28" y1="442.63" x2="224.67" y2="442.63" stroke="#555" stroke-width="0.8"/>
<rect x="220.80" y="443.90" width="5.35" height="2.08" fill="#c6c6c6" stroke="#666" stroke-width="0.7"/>
<line x1="229.42" y1="435.77" x2="229.42" y2="441.61" stroke="#555" stroke-width="0.8"/>
<line x1="228.22" y1="435.77" x2="230.62" y2="435.77" stroke="#555" stroke-width="0.8"/>
<rect x="226.75" y="441.91" width="5.35" height="1.99" fill="#fff" stroke="#555" stroke-width="0.7"/>
<line x1="242.67" y1="334.93" x2="242.67" y2="338.74" stroke="#555" stroke-width="0.8"/>
<line x1="241.47" y1="334.93" x2="243.87" y2="334.93" stroke="#555" stroke-width="0.8"/>
<rect x="239.70" y="338.74" width="5.95" height="105.16" fill="#000"/>
<line x1="248.62" y1="350.43" x2="248.62" y2="358.30" stroke="#555" stroke-width="0.8"/>
<line x1="247.42" y1="350.43" x2="249.82" y2="350.43" stroke="#555" stroke-width="0.8"/>
<rect x="245.95" y="358.60" width="5.35" height="85.30" fill="#c6c6c6" stroke="#666" stroke-width="0.7"/>
<line x1="254.57" y1="363.89" x2="254.57" y2="374.30" stroke="#555" stroke-width="0.8"/>
<line x1="253.38" y1="363.89" x2="255.77" y2="363.89" stroke="#555" stroke-width="0.8"/>
<rect x="251.90" y="374.60" width="5.35" height="69.30" fill="#c6c6c6" stroke="#666" stroke-width="0.7"/>
<line x1="260.53" y1="440.60" x2="260.53" y2="441.36" stroke="#555" stroke-width="0.8"/>
<line x1="259.33" y1="440.60" x2="261.73" y2="440.60" stroke="#555" stroke-width="0.8"/>
<rect x="257.85" y="441.66" width="5.35" height="2.24" fill="#fff" stroke="#555" stroke-width="0.7"/>
<line x1="273.98" y1="429.93" x2="273.98" y2="432.47" stroke="#555" stroke-width="0.8"/>
<line x1="272.78" y1="429.93" x2="275.18" y2="429.93" stroke="#555" stroke-width="0.8"/>
<rect x="271.00" y="432.47" width="5.95" height="11.43" fill="#000"/>
<line x1="279.93" y1="427.39" x2="279.93" y2="430.69" stroke="#555" stroke-width="0.8"/>
<line x1="278.73" y1="427.39" x2="281.12" y2="427.39" stroke="#555" stroke-width="0.8"/>
<rect x="277.25" y="430.99" width="5.35" height="12.91" fill="#c6c6c6" stroke="#666" stroke-width="0.7"/>
<line x1="285.88" y1="433.74" x2="285.88" y2="437.55" stroke="#555" stroke-width="0.8"/>
<line x1="284.68" y1="433.74" x2="287.07" y2="433.74" stroke="#555" stroke-width="0.8"/>
<rect x="283.20" y="437.85" width="5.35" height="6.05" fill="#c6c6c6" stroke="#666" stroke-width="0.7"/>
<line x1="291.83" y1="443.39" x2="291.83" y2="443.90" stroke="#555" stroke-width="0.8"/>
<line x1="290.63" y1="443.39" x2="293.03" y2="443.39" stroke="#555" stroke-width="0.8"/>
<rect x="289.15" y="443.90" width="5.35" height="3.09" fill="#fff" stroke="#555" stroke-width="0.7"/>
<line x1="306.38" y1="392.85" x2="306.38" y2="396.91" stroke="#555" stroke-width="0.8"/>
<line x1="305.18" y1="392.85" x2="307.57" y2="392.85" stroke="#555" stroke-width="0.8"/>
<rect x="303.40" y="396.91" width="5.95" height="46.99" fill="#000"/>
<line x1="312.32" y1="404.02" x2="312.32" y2="405.80" stroke="#555" stroke-width="0.8"/>
<line x1="311.12" y1="404.02" x2="313.52" y2="404.02" stroke="#555" stroke-width="0.8"/>
<rect x="309.65" y="406.10" width="5.35" height="37.80" fill="#c6c6c6" stroke="#666" stroke-width="0.7"/>
<line x1="318.27" y1="421.04" x2="318.27" y2="422.56" stroke="#555" stroke-width="0.8"/>
<line x1="317.07" y1="421.04" x2="319.47" y2="421.04" stroke="#555" stroke-width="0.8"/>
<rect x="315.60" y="422.86" width="5.35" height="21.04" fill="#c6c6c6" stroke="#666" stroke-width="0.7"/>
<line x1="324.23" y1="435.01" x2="324.23" y2="440.09" stroke="#555" stroke-width="0.8"/>
<line x1="323.03" y1="435.01" x2="325.43" y2="435.01" stroke="#555" stroke-width="0.8"/>
<rect x="321.55" y="440.39" width="5.35" height="3.51" fill="#fff" stroke="#555" stroke-width="0.7"/>
<line x1="228.80" y1="440.70" x2="228.80" y2="443.90" stroke="#555" stroke-width="0.8"/>
<line x1="227.60" y1="440.70" x2="230.00" y2="440.70" stroke="#555" stroke-width="0.8"/>
<text x="65.10" y="453.30" font-family="Liberation Sans, sans-serif" font-size="10.3" font-weight="normal" text-anchor="end" fill="#000" textLength="12.00" lengthAdjust="spacingAndGlyphs" stroke="#000" stroke-width="0.4" transform="rotate(-90 65.10 453.30)">NK</text>
<text x="97.00" y="457.20" font-family="Liberation Sans, sans-serif" font-size="10.3" font-weight="normal" text-anchor="end" fill="#000" textLength="43.00" lengthAdjust="spacingAndGlyphs" stroke="#000" stroke-width="0.4" transform="rotate(-90 97.00 457.20)">Monocyte</text>
<text x="127.90" y="455.80" font-family="Liberation Sans, sans-serif" font-size="10.3" font-weight="normal" text-anchor="end" fill="#000" textLength="25.20" lengthAdjust="spacingAndGlyphs" stroke="#000" stroke-width="0.4" transform="rotate(-90 127.90 455.80)">PBMC</text>
<text x="160.90" y="453.30" font-family="Liberation Sans, sans-serif" font-size="10.3" font-weight="normal" text-anchor="end" fill="#000" textLength="12.00" lengthAdjust="spacingAndGlyphs" stroke="#000" stroke-width="0.4" transform="rotate(-90 160.90 453.30)">NK</text>
<text x="192.70" y="457.20" font-family="Liberation Sans, sans-serif" font-size="10.3" font-weight="normal" text-anchor="end" fill="#000" textLength="43.00" lengthAdjust="spacingAndGlyphs" stroke="#000" stroke-width="0.4" transform="rotate(-90 192.70 457.20)">Monocyte</text>
<text x="223.50" y="455.80" font-family="Liberation Sans, sans-serif" font-size="10.3" font-weight="normal" text-anchor="end" fill="#000" textLength="25.20" lengthAdjust="spacingAndGlyphs" stroke="#000" stroke-width="0.4" transform="rotate(-90 223.50 455.80)">PBMC</text>
<text x="255.10" y="453.30" font-family="Liberation Sans, sans-serif" font-size="10.3" font-weight="normal" text-anchor="end" fill="#000" textLength="12.00" lengthAdjust="spacingAndGlyphs" stroke="#000" stroke-width="0.4" transform="rotate(-90 255.10 453.30)">NK</text>
<text x="287.50" y="457.20" font-family="Liberation Sans, sans-serif" font-size="10.3" font-weight="normal" text-anchor="end" fill="#000" textLength="43.00" lengthAdjust="spacingAndGlyphs" stroke="#000" stroke-width="0.4" transform="rotate(-90 287.50 457.20)">Monocyte</text>
<text x="318.90" y="455.80" font-family="Liberation Sans, sans-serif" font-size="10.3" font-weight="normal" text-anchor="end" fill="#000" textLength="25.20" lengthAdjust="spacingAndGlyphs" stroke="#000" stroke-width="0.4" transform="rotate(-90 318.90 455.80)">PBMC</text>
<line x1="57.00" y1="509.40" x2="128.60" y2="509.40" stroke="#000" stroke-width="1.5"/>
<line x1="156.30" y1="509.40" x2="227.70" y2="509.40" stroke="#000" stroke-width="1.5"/>
<line x1="256.30" y1="509.40" x2="327.70" y2="509.40" stroke="#000" stroke-width="1.5"/>
<text x="98.10" y="525.60" font-family="Liberation Serif, serif" font-size="9.4" font-weight="bold" text-anchor="middle" fill="#000" stroke="#000" stroke-width="0.22">CD37-SMIP</text>
<text x="195.50" y="524.20" font-family="Liberation Serif, serif" font-size="9.4" font-weight="bold" text-anchor="middle" fill="#000" stroke="#000" stroke-width="0.22">Trastuzumab</text>
<text x="294.90" y="524.20" font-family="Liberation Serif, serif" font-size="9.4" font-weight="bold" text-anchor="middle" fill="#000" stroke="#000" stroke-width="0.22">Alemtuzumab</text>
<text x="167.40" y="297.00" font-family="Liberation Serif, serif" font-size="12" font-weight="bold" text-anchor="start" fill="#000" textLength="18.80" lengthAdjust="spacing" stroke="#000" stroke-width="0.22">E:T</text>
<rect x="165.00" y="302.60" width="7.00" height="7.00" fill="#000"/>
<text x="176.20" y="310.00" font-family="Liberation Serif, serif" font-size="12" font-weight="bold" text-anchor="start" fill="#000" textLength="20.80" lengthAdjust="spacing" stroke="#000" stroke-width="0.22">25:1</text>
<rect x="165.30" y="322.60" width="6.60" height="6.80" fill="#c6c6c6" stroke="#666" stroke-width="0.8"/>
<text x="176.20" y="330.00" font-family="Liberation Serif, serif" font-size="12" font-weight="bold" text-anchor="start" fill="#000" textLength="30.00" lengthAdjust="spacing" stroke="#000" stroke-width="0.22">12.5:1</text>
<rect x="165.30" y="342.20" width="6.60" height="6.80" fill="#c6c6c6" stroke="#666" stroke-width="0.8"/>
<text x="176.20" y="349.60" font-family="Liberation Serif, serif" font-size="12" font-weight="bold" text-anchor="start" fill="#000" textLength="30.00" lengthAdjust="spacing" stroke="#000" stroke-width="0.22">6.25:1</text>
<rect x="165.30" y="361.80" width="6.60" height="7.00" fill="#fff" stroke="#777" stroke-width="0.8"/>
<text x="176.20" y="369.20" font-family="Liberation Serif, serif" font-size="12" font-weight="bold" text-anchor="start" fill="#000" textLength="5.20" lengthAdjust="spacing" stroke="#000" stroke-width="0.22">0</text>
<text x="343.00" y="279.80" font-family="Liberation Sans, sans-serif" font-size="19.5" font-weight="bold" text-anchor="start" fill="#000">D</text>
<line x1="376.40" y1="289.80" x2="376.40" y2="511.50" stroke="#6e6e6e" stroke-width="1"/>
<line x1="374.20" y1="290.00" x2="376.40" y2="290.00" stroke="#6e6e6e" stroke-width="1"/>
<line x1="374.20" y1="334.40" x2="376.40" y2="334.40" stroke="#6e6e6e" stroke-width="1"/>
<line x1="374.20" y1="378.40" x2="376.40" y2="378.40" stroke="#6e6e6e" stroke-width="1"/>
<line x1="374.20" y1="423.70" x2="376.40" y2="423.70" stroke="#6e6e6e" stroke-width="1"/>
<line x1="374.20" y1="467.80" x2="376.40" y2="467.80" stroke="#6e6e6e" stroke-width="1"/>
<line x1="374.20" y1="511.30" x2="376.40" y2="511.30" stroke="#6e6e6e" stroke-width="1"/>
<line x1="374.20" y1="423.60" x2="514.60" y2="423.60" stroke="#6e6e6e" stroke-width="1"/>
<line x1="423.10" y1="423.60" x2="423.10" y2="426.20" stroke="#6e6e6e" stroke-width="1"/>
<line x1="470.30" y1="423.60" x2="470.30" y2="426.20" stroke="#6e6e6e" stroke-width="1"/>
<line x1="514.40" y1="423.60" x2="514.40" y2="426.20" stroke="#6e6e6e" stroke-width="1"/>
<text x="371.80" y="295.50" font-family="Liberation Serif, serif" font-size="14" font-weight="bold" text-anchor="end" fill="#000" stroke="#000" stroke-width="0.22">15</text>
<text x="371.80" y="339.30" font-family="Liberation Serif, serif" font-size="14" font-weight="bold" text-anchor="end" fill="#000" stroke="#000" stroke-width="0.22">10</text>
<text x="371.80" y="386.70" font-family="Liberation Serif, serif" font-size="14" font-weight="bold" text-anchor="end" fill="#000" stroke="#000" stroke-width="0.22">5</text>
<text x="371.80" y="430.30" font-family="Liberation Serif, serif" font-size="14" font-weight="bold" text-anchor="end" fill="#000" stroke="#000" stroke-width="0.22">0</text>
<text x="371.80" y="473.50" font-family="Liberation Serif, serif" font-size="14" font-weight="bold" text-anchor="end" fill="#000" stroke="#000" stroke-width="0.22">-10</text>
<text x="353.80" y="372.10" font-family="Liberation Serif, serif" font-size="13.95" font-weight="bold" text-anchor="middle" fill="#000" textLength="141.80" lengthAdjust="spacing" stroke="#000" stroke-width="0.22" transform="rotate(-90 353.80 372.10)">% Relative Cytotoxicity</text>
<line x1="389.50" y1="396.20" x2="389.50" y2="423.60" stroke="#555" stroke-width="0.9"/>
<line x1="388.10" y1="396.20" x2="390.90" y2="396.20" stroke="#555" stroke-width="0.9"/>
<rect x="383.80" y="423.60" width="10.70" height="13.20" fill="#000"/>
<line x1="400.00" y1="375.80" x2="400.00" y2="421.30" stroke="#555" stroke-width="0.9"/>
<line x1="398.60" y1="375.80" x2="401.40" y2="375.80" stroke="#555" stroke-width="0.9"/>
<rect x="394.80" y="421.30" width="10.10" height="2.30" fill="#9a9a9a" stroke="#555" stroke-width="0.7"/>
<line x1="410.00" y1="391.20" x2="410.00" y2="423.60" stroke="#555" stroke-width="0.9"/>
<line x1="408.60" y1="391.20" x2="411.40" y2="391.20" stroke="#555" stroke-width="0.9"/>
<line x1="436.40" y1="336.30" x2="436.40" y2="379.50" stroke="#555" stroke-width="0.9"/>
<line x1="435.00" y1="336.30" x2="437.80" y2="336.30" stroke="#555" stroke-width="0.9"/>
<rect x="431.30" y="379.50" width="10.70" height="44.10" fill="#000"/>
<rect x="442.30" y="423.60" width="10.10" height="22.20" fill="#9a9a9a" stroke="#555" stroke-width="0.7"/>
<line x1="447.00" y1="407.00" x2="447.00" y2="445.80" stroke="#555" stroke-width="0.9"/>
<line x1="445.60" y1="407.00" x2="448.40" y2="407.00" stroke="#555" stroke-width="0.9"/>
<line x1="457.60" y1="390.40" x2="457.60" y2="423.60" stroke="#555" stroke-width="0.9"/>
<line x1="456.20" y1="390.40" x2="459.00" y2="390.40" stroke="#555" stroke-width="0.9"/>
<rect x="478.20" y="423.60" width="10.70" height="49.00" fill="#000"/>
<rect x="489.20" y="423.60" width="10.10" height="66.60" fill="#9a9a9a" stroke="#555" stroke-width="0.7"/>
<line x1="494.00" y1="456.50" x2="494.00" y2="490.20" stroke="#555" stroke-width="0.9"/>
<line x1="492.60" y1="456.50" x2="495.40" y2="456.50" stroke="#555" stroke-width="0.9"/>
<rect x="499.80" y="423.60" width="10.10" height="11.70" fill="#fff" stroke="#555" stroke-width="0.8"/>
<line x1="504.60" y1="409.50" x2="504.60" y2="435.30" stroke="#555" stroke-width="0.9"/>
<line x1="503.20" y1="409.50" x2="506.00" y2="409.50" stroke="#555" stroke-width="0.9"/>
<path d="M382.00,491.30 Q382.00,498.30 387.00,498.30 L418.00,498.30 Q423.00,498.30 423.00,491.30" fill="none" stroke="#444" stroke-width="1"/>
<path d="M425.50,491.30 Q425.50,498.30 430.50,498.30 L462.50,498.30 Q467.50,498.30 467.50,491.30" fill="none" stroke="#444" stroke-width="1"/>
<path d="M469.50,491.30 Q469.50,498.30 474.50,498.30 L506.30,498.30 Q511.30,498.30 511.30,491.30" fill="none" stroke="#444" stroke-width="1"/>
<text x="402.80" y="513.20" font-family="Liberation Serif, serif" font-size="9.3" font-weight="bold" text-anchor="middle" fill="#000" letter-spacing="0.3" stroke="#000" stroke-width="0.22">CD37-</text>
<text x="402.80" y="524.60" font-family="Liberation Serif, serif" font-size="9.3" font-weight="bold" text-anchor="middle" fill="#000" letter-spacing="0.3" stroke="#000" stroke-width="0.22">SMIP</text>
<text x="446.30" y="511.80" font-family="Liberation Serif, serif" font-size="9.3" font-weight="bold" text-anchor="middle" fill="#000" letter-spacing="0.3" stroke="#000" stroke-width="0.22">CD37-</text>
<text x="446.30" y="523.40" font-family="Liberation Serif, serif" font-size="9.3" font-weight="bold" text-anchor="middle" fill="#000" letter-spacing="0.3" stroke="#000" stroke-width="0.22">SMIP</text>
<text x="446.30" y="534.80" font-family="Liberation Serif, serif" font-size="9.3" font-weight="bold" text-anchor="middle" fill="#000" letter-spacing="0.2" stroke="#000" stroke-width="0.22">+ IFNγ</text>
<text x="490.80" y="511.80" font-family="Liberation Serif, serif" font-size="9.3" font-weight="bold" text-anchor="middle" fill="#000" letter-spacing="0.3" stroke="#000" stroke-width="0.22">Trastu-</text>
<text x="490.80" y="523.40" font-family="Liberation Serif, serif" font-size="9.3" font-weight="bold" text-anchor="middle" fill="#000" letter-spacing="0.3" stroke="#000" stroke-width="0.22">zumab</text>
<text x="381.40" y="296.20" font-family="Liberation Serif, serif" font-size="14.5" font-weight="bold" text-anchor="start" fill="#000" textLength="18.60" lengthAdjust="spacing" stroke="#000" stroke-width="0.22">E:T</text>
<rect x="382.70" y="302.00" width="6.80" height="8.80" fill="#000"/>
<text x="392.90" y="311.00" font-family="Liberation Serif, serif" font-size="14.6" font-weight="bold" text-anchor="start" fill="#000" textLength="20.20" lengthAdjust="spacing" stroke="#000" stroke-width="0.22">50:1</text>
<rect x="383.00" y="324.30" width="6.20" height="8.50" fill="#9a9a9a" stroke="#666" stroke-width="0.7"/>
<text x="392.90" y="333.20" font-family="Liberation Serif, serif" font-size="14.6" font-weight="bold" text-anchor="start" fill="#000" textLength="20.20" lengthAdjust="spacing" stroke="#000" stroke-width="0.22">25:1</text>
<rect x="383.00" y="346.60" width="6.20" height="8.50" fill="#fff" stroke="#777" stroke-width="0.8"/>
<text x="392.90" y="354.90" font-family="Liberation Serif, serif" font-size="14.6" font-weight="bold" text-anchor="start" fill="#000" textLength="6.40" lengthAdjust="spacing" stroke="#000" stroke-width="0.22">0</text>
</g>
</svg>
</body>
</html>
